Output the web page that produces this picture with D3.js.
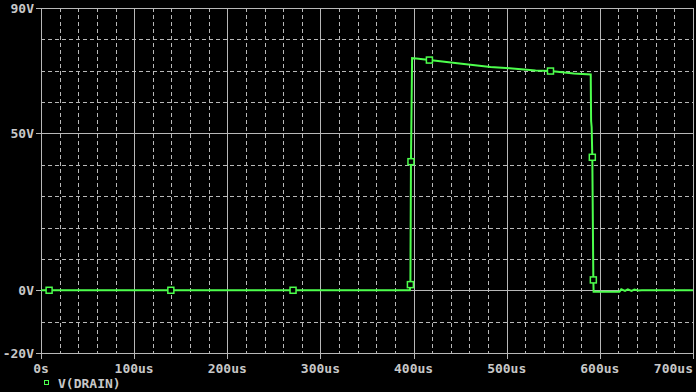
<!DOCTYPE html>
<html>
<head>
<meta charset="utf-8">
<script src="https://cdn.jsdelivr.net/npm/d3@7"></script>
<style>
  html, body { margin: 0; padding: 0; background: #000; }
  svg { display: block; }
  text { font-family: "DejaVu Sans Mono", monospace; font-size: 13px; font-weight: bold; fill: #c8c8c8; }
</style>
</head>
<body>
<div id="chart"></div>
<script>
// trace V(DRAIN): time in us, value in volts
var timeUs = [0, 396.0, 396.6, 397.2, 398.4, 403, 417, 447, 482.5, 503, 531, 547, 572, 590.2, 590.6, 591.2, 591.9, 593, 593.3, 621, 623, 627, 630, 634, 637, 641, 645, 700];
var drainV = [0, 0, 1.8, 41, 74.0, 73.9, 73.4, 72.4, 71.2, 70.8, 70.1, 69.9, 69.1, 68.8, 54, 52, 42.4, 3.3, -0.5, -0.5, 0.3, -0.2, 0.3, -0.2, 0.2, -0.1, 0, 0];
// symbol markers along the trace
var markerUs = [8.7, 139.4, 270.6, 396.6, 397.2, 417, 547, 591.9, 593];
var markerV = [0, 0, 0, 1.8, 41, 73.4, 69.9, 42.4, 3.3];

var xTicks = [0, 100, 200, 300, 400, 500, 600, 700];
var xTickLabels = ["0s", "100us", "200us", "300us", "400us", "500us", "600us", "700us"];
var yTicks = [-20, 0, 50, 90];
var yTickLabels = ["-20V", "0V", "50V", "90V"];
var xMinor = d3.range(0, 701, 20);
var yMinor = d3.range(-20, 91, 10);
var legendName = "V(DRAIN)";

var W = 696, H = 392;
var mLeft = 41, mRight = 693, mTop = 8, mBottom = 353;
var grey = "#b8b8b8", green = "#4dff4d";

var svg = d3.select("#chart").append("svg")
  .attr("width", W).attr("height", H)
  .style("background", "#000");

var x = d3.scaleLinear().domain([0, 700]).range([mLeft, mRight]);
var y = d3.scaleLinear().domain([-20, 90]).range([mBottom, mTop]);

// dashed minor grid
svg.append("g").selectAll("line")
  .data(xMinor.filter(function(d) { return d % 100 != 0; }))
  .enter().append("line")
  .attr("x1", function(d) { return Math.round(x(d)) + 0.5; })
  .attr("x2", function(d) { return Math.round(x(d)) + 0.5; })
  .attr("y1", mTop).attr("y2", mBottom)
  .attr("stroke", grey).attr("stroke-dasharray", "4,3");
svg.append("g").selectAll("line")
  .data(yMinor.filter(function(d) { return yTicks.indexOf(d) < 0; }))
  .enter().append("line")
  .attr("y1", function(d) { return Math.round(y(d)) + 0.5; })
  .attr("y2", function(d) { return Math.round(y(d)) + 0.5; })
  .attr("x1", mLeft).attr("x2", mRight)
  .attr("stroke", grey).attr("stroke-dasharray", "4,3");

// solid major grid with outside tick marks
svg.append("g").selectAll("line")
  .data(xTicks)
  .enter().append("line")
  .attr("x1", function(d) { return Math.round(x(d)) + 0.5; })
  .attr("x2", function(d) { return Math.round(x(d)) + 0.5; })
  .attr("y1", mTop).attr("y2", mBottom + 6)
  .attr("stroke", grey);
svg.append("g").selectAll("line")
  .data(yTicks)
  .enter().append("line")
  .attr("y1", function(d) { return Math.round(y(d)) + 0.5; })
  .attr("y2", function(d) { return Math.round(y(d)) + 0.5; })
  .attr("x1", mLeft - 5).attr("x2", mRight)
  .attr("stroke", grey);

// tick labels
svg.append("g").selectAll("text")
  .data(xTicks)
  .enter().append("text")
  .attr("x", function(d, i) { return i == xTicks.length - 1 ? W - 3 : x(d); })
  .attr("y", mBottom + 20)
  .attr("text-anchor", function(d, i) { return i == xTicks.length - 1 ? "end" : "middle"; })
  .text(function(d, i) { return xTickLabels[i]; });
svg.append("g").selectAll("text")
  .data(yTicks)
  .enter().append("text")
  .attr("x", mLeft - 7)
  .attr("y", function(d) { return Math.max(y(d) + 5, 13); })
  .attr("text-anchor", "end")
  .text(function(d, i) { return yTickLabels[i]; });

// trace
var pts = timeUs.map(function(t, i) { return [t, drainV[i]]; });
var line = d3.line()
  .x(function(d) { return x(d[0]); })
  .y(function(d) { return y(d[1]); });
svg.append("path")
  .datum(pts)
  .attr("d", line)
  .attr("fill", "none")
  .attr("stroke", green)
  .attr("stroke-width", 2);

svg.append("g").selectAll("rect")
  .data(markerUs)
  .enter().append("rect")
  .attr("x", function(d) { return x(d) - 3; })
  .attr("y", function(d, i) { return y(markerV[i]) - 3; })
  .attr("width", 6).attr("height", 6)
  .attr("fill", "#000")
  .attr("stroke", green)
  .attr("stroke-width", 1.5);

// legend
svg.append("rect")
  .attr("x", 44.5).attr("y", 380.5)
  .attr("width", 4).attr("height", 4)
  .attr("fill", "none").attr("stroke", green).attr("stroke-width", 1);
svg.append("text")
  .attr("x", 58).attr("y", 388)
  .text(legendName);
</script>
</body>
</html>
